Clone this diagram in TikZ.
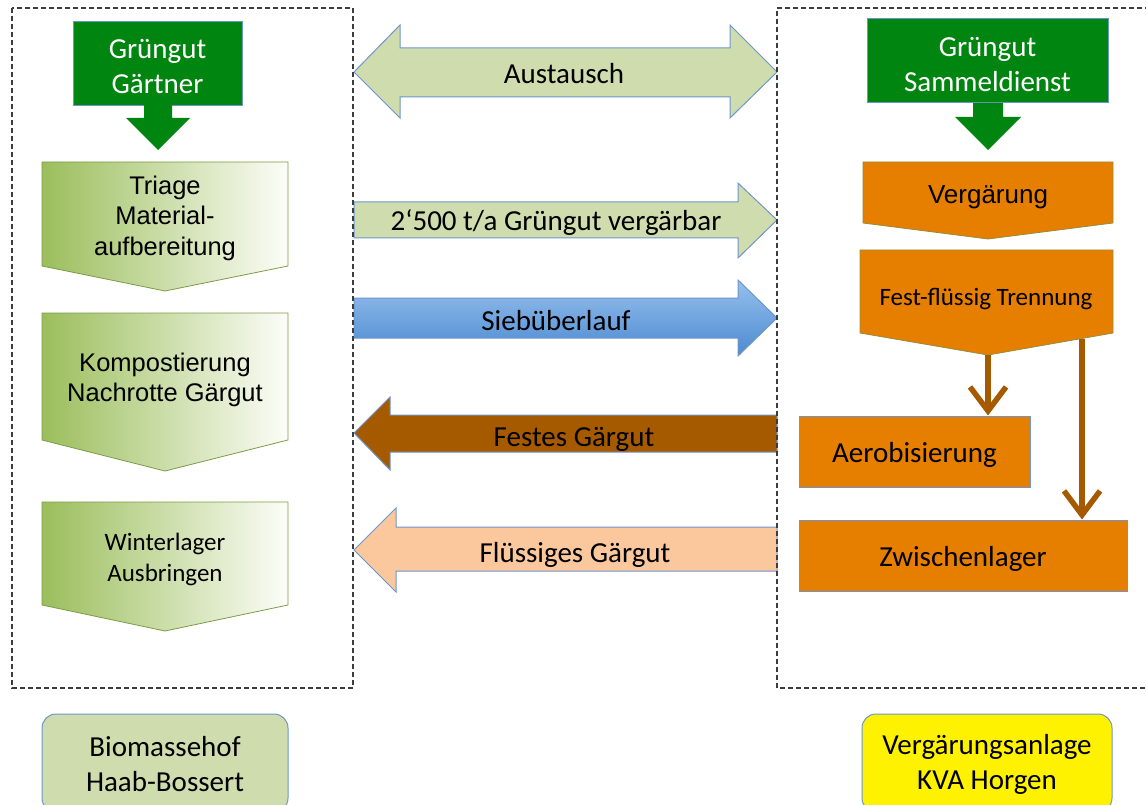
\documentclass[tikz,border=0pt]{standalone}
\usepackage{fontspec}
\setmainfont{Carlito}
\newfontfamily\arialf{Liberation Sans}
\usetikzlibrary{arrows.meta}
\definecolor{dgreen}{RGB}{0,134,16}
\definecolor{bborder}{RGB}{110,150,205}
\definecolor{olive}{RGB}{207,220,173}
\definecolor{chevL}{RGB}{155,190,92}
\definecolor{chevR}{RGB}{252,253,248}
\definecolor{chevB}{RGB}{125,155,70}
\definecolor{orng}{RGB}{230,126,0}
\definecolor{orngB}{RGB}{150,140,60}
\definecolor{brwn}{RGB}{166,90,0}
\definecolor{peach}{RGB}{250,200,156}
\definecolor{blueT}{RGB}{150,192,238}
\definecolor{blueB}{RGB}{76,138,208}
\definecolor{dashc}{RGB}{60,60,60}
\tikzset{
  frame/.style={draw=dashc, line width=1.2pt, dash pattern=on 5pt off 3pt},
  lbl/.style={font=\fontsize{29}{35}\selectfont, align=center, inner sep=0pt},
  albl/.style={font=\arialf\fontsize{25.5}{30.5}\selectfont, align=center, inner sep=0pt},
  blk/.style={draw=bborder, line width=1pt, line join=miter},
  chev/.style={draw=chevB, line width=0.8pt, left color=chevL, right color=chevR},
  ochev/.style={draw=orngB, line width=0.8pt, fill=orng},
  srcbox/.style={blk, fill=dgreen, minimum width=#1, minimum height=84pt},
  obox/.style={blk, fill=orng, minimum height=71pt},
  sitebox/.style={blk, rounded corners=14pt, minimum width=246pt, minimum height=98pt},
  flow/.style={draw=brwn, line width=5.5pt, -{Straight Barb[length=24pt,width=36pt]}},
}
\begin{document}
\begin{tikzpicture}[x=1pt,y=-1pt]
\useasboundingbox (0,0) rectangle (1146,805);
\clip (0,0) rectangle (1146,805);

% ---------- left column ----------
\node[srcbox=169pt] (gl) at (157.5,63.5) {};
\node[lbl, text=white] (glt) at (157.5,67) {Grüngut\\Gärtner};
\fill[dgreen] (144,105) -- (172,105) -- (172,118) -- (190,118) -- (158,150) -- (126,118) -- (144,118) -- cycle;

\shade[chev] (42,162) -- (288,162) -- (288,266) -- (165,291) -- (42,266) -- cycle;
\node[albl] (c1) at (165,218) {Triage\\Material-\\aufbereitung};
\shade[chev] (42,313) -- (288,313) -- (288,440) -- (165,471) -- (42,440) -- cycle;
\node[albl] (c2) at (165,380) {Kompostierung\\Nachrotte Gärgut};
\shade[chev] (42,502) -- (288,502) -- (288,605) -- (165,631) -- (42,605) -- cycle;
\node[lbl, font=\fontsize{25}{31}\selectfont] (c3) at (165,559) {Winterlager\\Ausbringen};

% ---------- middle arrows ----------
\path[blk, fill=olive] (354,72) -- (400,25) -- (400,48) -- (730,48) -- (730,25) -- (777,72) -- (730,118) -- (730,97) -- (400,97) -- (400,118) -- cycle;
\node[lbl] (m1) at (564,74) {Austausch};

\path[blk, fill=olive] (354,202) -- (738,202) -- (738,183) -- (777,220) -- (738,258) -- (738,238) -- (354,238) -- cycle;
\node[lbl] (m2) at (556,223) {2‘500 t/a Grüngut vergärbar};

\path[blk, top color=blueT, bottom color=blueB] (354,298) -- (738,298) -- (738,280) -- (777,318) -- (738,356) -- (738,338) -- (354,338) -- cycle;
\node[lbl] (m3) at (556,321) {Siebüberlauf};

\path[blk, fill=brwn] (354,433) -- (390,397) -- (390,415) -- (777,415) -- (777,452) -- (390,452) -- (390,470) -- cycle;
\node[lbl] (m4) at (574,439) {Festes Gärgut};

\path[blk, fill=peach] (354,550) -- (396,508) -- (396,527) -- (777,527) -- (777,571) -- (396,571) -- (396,592) -- cycle;
\node[lbl] (m5) at (575,555) {Flüssiges Gärgut};

% ---------- right column ----------
\node[srcbox=241pt] (gr) at (987.5,61) {};
\node[lbl, text=white] (grt) at (987.5,65) {Grüngut\\Sammeldienst};
\fill[dgreen] (973,103) -- (1003,103) -- (1003,117) -- (1021,117) -- (988,150) -- (955,117) -- (973,117) -- cycle;

\path[ochev] (863,162) -- (1113,162) -- (1113,223) -- (988,239) -- (863,223) -- cycle;
\node[albl, font=\arialf\fontsize{26}{30}\selectfont] (vg) at (988,197) {Vergärung};
\path[ochev] (860,250) -- (1113,250) -- (1113,333) -- (988,355) -- (860,333) -- cycle;
\node[lbl, font=\fontsize{25}{30}\selectfont] (ff) at (986,299) {Fest-flüssig Trennung};
\coordinate (fftip) at (988,355);
\coordinate (ffr) at (1082,338.5);

\node[obox, minimum width=231pt] (aero) at (914.5,451.5) {};
\node[lbl] (aerot) at (914.5,455) {Aerobisierung};
\node[obox, minimum width=328pt] (zw) at (963,555.5) {};
\node[lbl] (zwt) at (963,559) {Zwischenlager};

\draw[flow] (fftip) -- (aero.north -| fftip);
\draw[flow] (ffr) -- (zw.north -| ffr);

% ---------- frames ----------
\draw[frame] (12,8) rectangle (353,688);
\draw[frame] (1150,8) -- (777,8) -- (777,688) -- (1150,688);

% ---------- site labels ----------
\node[sitebox, fill=olive] (s1) at (165,763) {};
\node[lbl] (s1t) at (165,764) {Biomassehof\\Haab-Bossert};
\node[sitebox, fill=yellow, minimum width=250pt] (s2) at (987,763) {};
\node[lbl] (s2t) at (987,764) {Vergärungsanlage\\KVA Horgen};
\end{tikzpicture}
\end{document}
